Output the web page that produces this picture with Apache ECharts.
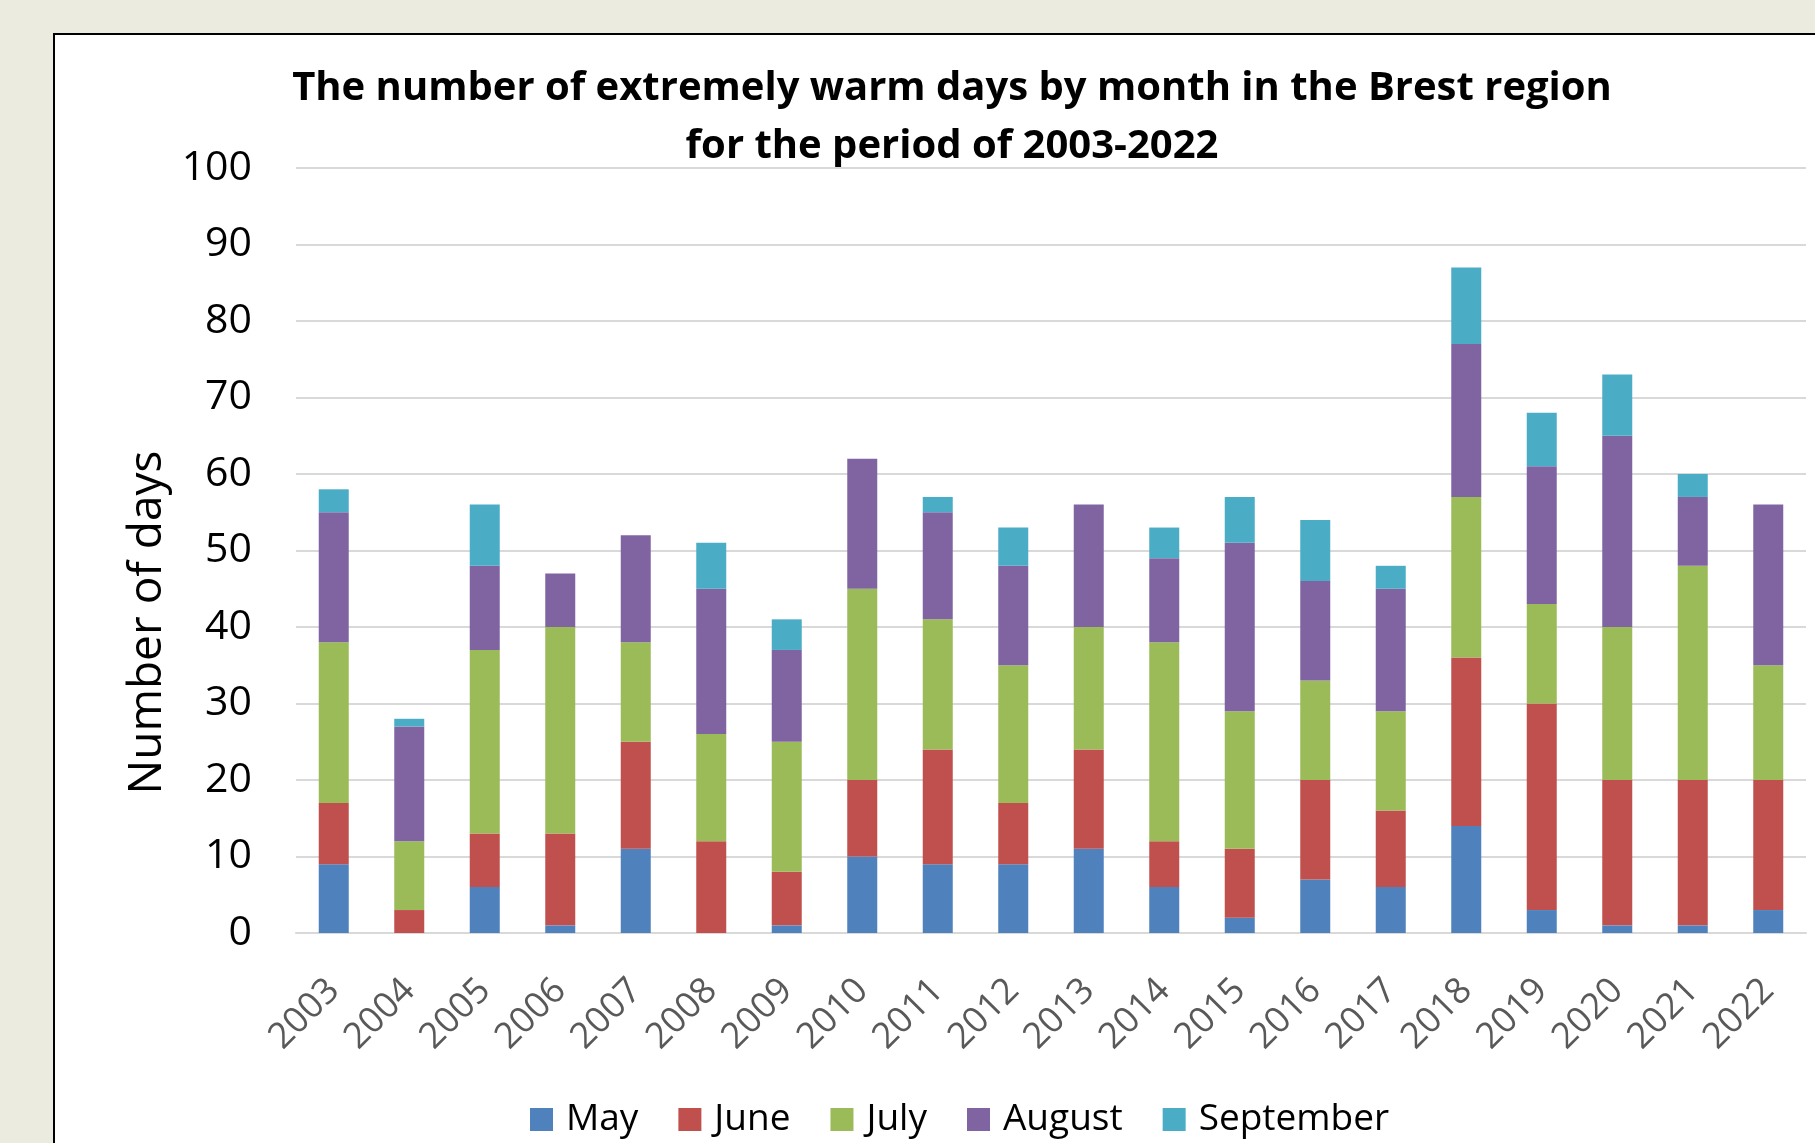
<!DOCTYPE html>
<html>
<head>
<meta charset="utf-8">
<title>Extremely warm days, Brest region</title>
<script src="https://cdn.jsdelivr.net/npm/echarts@6/dist/echarts.min.js"></script>
<style>
    html, body {
        margin: 0;
        padding: 0;
        background: #ecebdf;
    }
    #chart {
        width: 1815px;
        height: 1143px;
    }
</style>
</head>
<body>
<div id="chart"></div>
<script>
// values, days per month
const years = ['2003', '2004', '2005', '2006', '2007', '2008', '2009', '2010', '2011', '2012',
    '2013', '2014', '2015', '2016', '2017', '2018', '2019', '2020', '2021', '2022']
const mayDays = [9, 0, 6, 1, 11, 0, 1, 10, 9, 9, 11, 6, 2, 7, 6, 14, 3, 1, 1, 3]
const juneDays = [8, 3, 7, 12, 14, 12, 7, 10, 15, 8, 13, 6, 9, 13, 10, 22, 27, 19, 19, 17]
const julyDays = [21, 9, 24, 27, 13, 14, 17, 25, 17, 18, 16, 26, 18, 13, 13, 21, 13, 20, 28, 15]
const augustDays = [17, 15, 11, 7, 14, 19, 12, 17, 14, 13, 16, 11, 22, 13, 16, 20, 18, 25, 9, 21]
const septemberDays = [3, 1, 8, 0, 0, 6, 4, 0, 2, 5, 0, 4, 6, 8, 3, 10, 7, 8, 3, 0]

const months = ['May', 'June', 'July', 'August', 'September']
const monthData = [mayDays, juneDays, julyDays, augustDays, septemberDays]
const colors = ['#4f81bd', '#c0504d', '#9bbb59', '#8064a2', '#4bacc6']

const font = 'Open Sans'

const barSeries = months.map((name, i) => ({
    name,
    type: 'bar',
    stack: 'days',
    barWidth: 30,
    itemStyle: {
        color: colors[i]
    },
    data: monthData[i]
}))

const option = {
    backgroundColor: '#ecebdf',
    animation: false,
    textStyle: {
        fontFamily: font
    },
    graphic: [{
        type: 'rect',
        z: -10,
        shape: { x: 54, y: 34, width: 1800, height: 1200 },
        style: { fill: '#fff', stroke: '#000', lineWidth: 2 }
    }],
    title: {
        text: 'The number of extremely warm days by month in the Brest region\nfor the period of 2003-2022',
        left: 947,
        top: 55,
        textAlign: 'center',
        textStyle: {
            fontFamily: font,
            fontSize: 40,
            fontWeight: 'bold',
            lineHeight: 58,
            color: '#000'
        }
    },
    legend: {
        data: months,
        left: 530,
        top: 1101,
        padding: 0,
        icon: 'rect',
        itemWidth: 23,
        itemHeight: 23,
        itemGap: 40,
        textStyle: {
            fontFamily: font,
            fontSize: 37,
            color: '#000',
            padding: [0, 0, 0, 8]
        }
    },
    grid: {
        left: 296,
        right: 9,
        top: 168,
        bottom: 210
    },
    xAxis: {
        type: 'category',
        data: years,
        axisLine: {
            lineStyle: { color: '#d9d9d9', width: 2 }
        },
        axisTick: { show: false },
        axisLabel: {
            rotate: 45,
            margin: 52,
            fontFamily: font,
            fontSize: 36,
            color: '#595959'
        }
    },
    yAxis: {
        type: 'value',
        min: 0,
        max: 100,
        interval: 10,
        name: 'Number of days',
        nameLocation: 'middle',
        nameGap: 122,
        nameTextStyle: {
            fontFamily: font,
            fontSize: 46,
            color: '#000',
            // push the name down the axis, as in the original
            padding: [0, 144, 0, 0]
        },
        axisLine: { show: false },
        axisTick: { show: false },
        axisLabel: {
            margin: 44,
            fontFamily: font,
            fontSize: 41,
            color: '#000',
            padding: [10, 0, 0, 0]
        },
        splitLine: {
            lineStyle: { color: '#d9d9d9', width: 2 }
        }
    },
    series: barSeries
}

const chart = echarts.init(document.getElementById('chart'))
chart.setOption(option)
</script>
</body>
</html>
